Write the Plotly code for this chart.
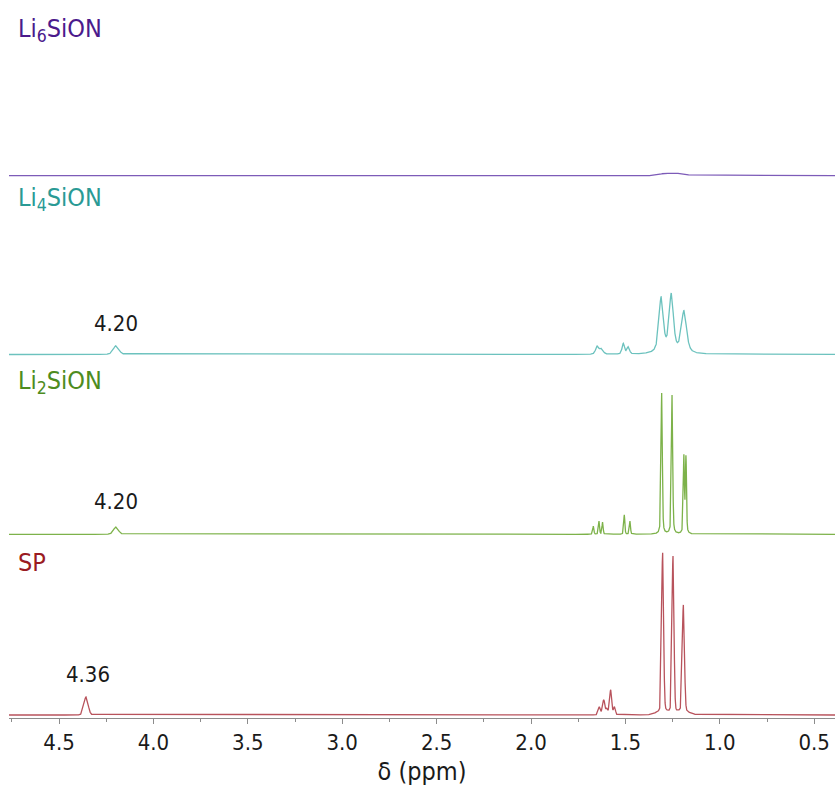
import numpy as np
import plotly.graph_objects as go

# ---------------- data ----------------
# peak lists: centre (ppm), height (a.u.), FWHM (ppm), Lorentzian fraction
sp_centers = [4.357, 1.303, 1.248, 1.193, 1.638, 1.615, 1.598, 1.578, 1.558, 1.30, 1.20]
sp_heights = [18, 158, 156, 106, 8, 15, 6, 25, 8, 4, 4]
sp_fwhm    = [0.026, 0.012, 0.012, 0.013, 0.014, 0.014, 0.013, 0.013, 0.012, 0.08, 0.08]
sp_eta     = [0.1, 0.1, 0.1, 0.1, 0.1, 0.1, 0.1, 0.1, 0.1, 0.0, 0.0]

li2_centers = [4.198, 1.308, 1.253, 1.1905, 1.1795, 1.670, 1.640, 1.621, 1.506, 1.476]
li2_heights = [7.3, 141, 139, 77, 76, 8.0, 13, 12, 19.5, 13]
li2_fwhm    = [0.030, 0.008, 0.008, 0.007, 0.007, 0.007, 0.007, 0.007, 0.007, 0.007]
li2_eta     = [0.2, 0.4, 0.4, 0.4, 0.4, 0.3, 0.3, 0.3, 0.3, 0.3]

li4_centers = [4.198, 1.311, 1.257, 1.190, 1.649, 1.626, 1.511, 1.485]
li4_heights = [8.7, 55, 58, 42, 8.0, 5.5, 10.5, 7.0]
li4_fwhm    = [0.035, 0.027, 0.027, 0.032, 0.020, 0.020, 0.016, 0.016]
li4_eta     = [0.3, 0.65, 0.65, 0.6, 0.4, 0.4, 0.4, 0.4]

li6_centers = [1.29, 1.21]
li6_heights = [2.3, 2.3]
li6_fwhm    = [0.07, 0.07]
li6_eta     = [0.0, 0.0]

series_names = ["SP", "Li<sub>2</sub>SiON", "Li<sub>4</sub>SiON", "Li<sub>6</sub>SiON"]
peak_labels = [("4.36", 4.36, 0), ("4.20", 4.20, 1), ("4.20", 4.20, 2)]

tick_vals = [4.5, 4.0, 3.5, 3.0, 2.5, 2.0, 1.5, 1.0, 0.5]

# ---------------- styling ----------------
line_colors = ["#b8535c", "#7db24a", "#6cc2be", "#7d5bb8"]
label_colors = ["#9a1b22", "#4e8c1e", "#2a9a95", "#4b1a8c"]
offsets = [3, 183.7, 363.5, 542.3]
label_y = [156, 336, 519, 688]
peak_label_y = [43.3, 216.5, 395]
FONT = "DejaVu Sans Condensed, Liberation Sans, Arial, sans-serif"

ppm = np.arange(0.38, 4.78, 0.0004)


def spectrum(c, h, w, eta):
    y = np.zeros_like(ppm)
    for ci, hi, wi, ei in zip(c, h, w, eta):
        sig = wi / 2.3548
        g = np.exp(-0.5 * ((ppm - ci) / sig) ** 2)
        l = 1.0 / (1.0 + (2 * (ppm - ci) / wi) ** 2)
        y += hi * (ei * l + (1 - ei) * g)
    return y


spectra = [
    spectrum(sp_centers, sp_heights, sp_fwhm, sp_eta),
    spectrum(li2_centers, li2_heights, li2_fwhm, li2_eta),
    spectrum(li4_centers, li4_heights, li4_fwhm, li4_eta),
    spectrum(li6_centers, li6_heights, li6_fwhm, li6_eta),
]

fig = go.Figure()
for i, s in enumerate(spectra):
    fig.add_trace(go.Scatter(x=ppm, y=s + offsets[i], mode="lines",
                             line=dict(color=line_colors[i], width=1.3),
                             hoverinfo="skip", showlegend=False))

for i, name in enumerate(series_names):
    fig.add_annotation(x=0, xref="paper", xanchor="left", xshift=7,
                       y=label_y[i], yref="y", yanchor="middle",
                       text=name, showarrow=False,
                       font=dict(family=FONT, size=25, color=label_colors[i]))

for (txt, xv, si), yv in zip(peak_labels, peak_label_y):
    fig.add_annotation(x=xv, y=yv, xref="x", yref="y", text=txt, showarrow=False,
                       xshift=3 if si == 0 else 0,
                       font=dict(family=FONT, size=22, color="#1a1a1a"))

fig.update_layout(
    width=835, height=790,
    margin=dict(l=9, r=0, t=0, b=72),
    paper_bgcolor="white", plot_bgcolor="white",
    xaxis=dict(range=[4.765, 0.39], tickvals=tick_vals,
               ticktext=[f"{v:.1f}" for v in tick_vals],
               showline=True, linecolor="#8c8c8c", linewidth=1,
               ticks="outside", ticklen=5, tickcolor="#8c8c8c",
               minor=dict(dtick=0.25, ticks="outside", ticklen=3, tickcolor="#8c8c8c"),
               showgrid=False, zeroline=False,
               tickfont=dict(family=FONT, size=22, color="#1a1a1a"),
               title=dict(text="δ (ppm)", standoff=8,
                          font=dict(family=FONT, size=25, color="#1a1a1a"))),
    yaxis=dict(range=[0, 718], visible=False, fixedrange=True),
)

fig.write_html("out.html")
